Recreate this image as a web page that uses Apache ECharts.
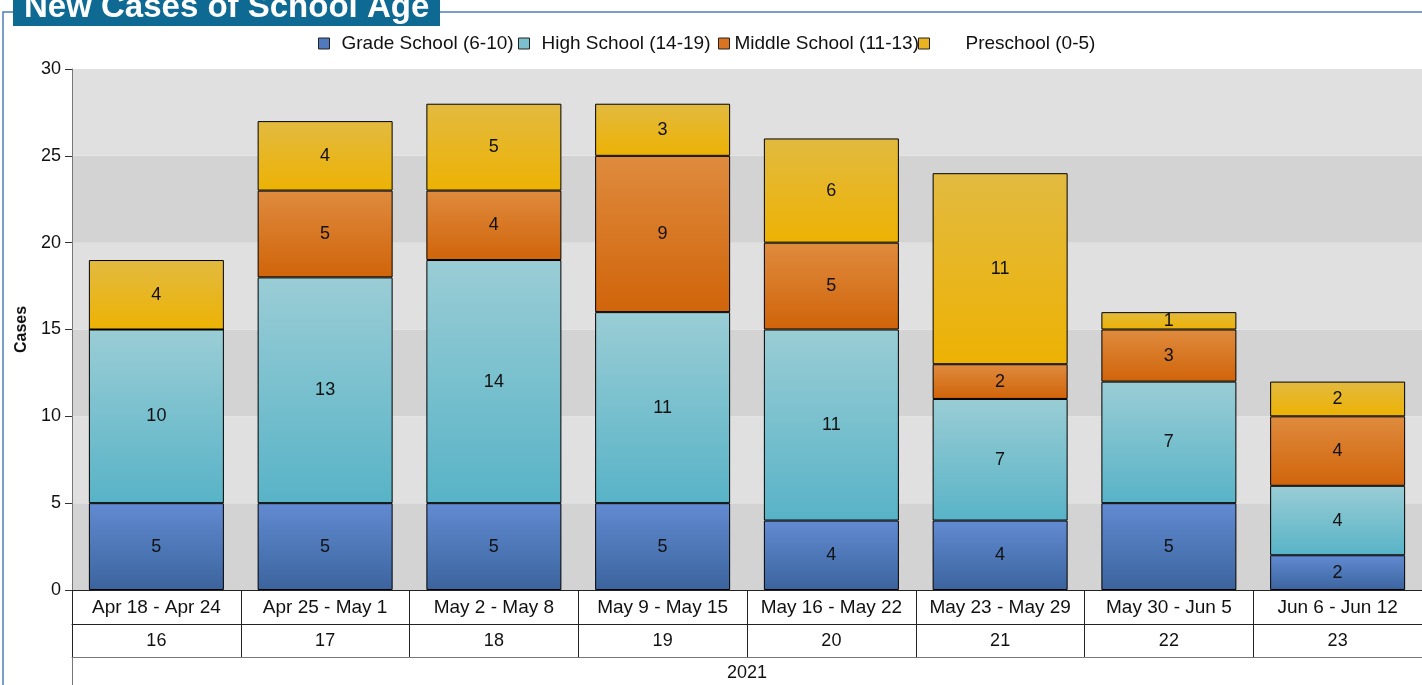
<!DOCTYPE html>
<html><head><meta charset="utf-8">
<script src="https://cdn.jsdelivr.net/npm/echarts@6/dist/echarts.min.js"></script>
<style>html,body{margin:0;padding:0;background:#fff;}#c{width:1422px;height:685px;}</style>
</head><body><div id="c"></div>
<script>
var weeks = ['Apr 18 - Apr 24','Apr 25 - May 1','May 2 - May 8','May 9 - May 15','May 16 - May 22','May 23 - May 29','May 30 - Jun 5','Jun 6 - Jun 12'];
var weekNums = ['16','17','18','19','20','21','22','23'];
var years = ['2021'];
var seriesNames = ['Grade School (6-10)','High School (14-19)','Middle School (11-13)','Preschool (0-5)'];
var gradeSchool = [5,5,5,5,4,4,5,2];
var highSchool = [10,13,14,11,11,7,7,4];
var middleSchool = [0,5,4,9,5,2,3,4];
var preschool = [4,4,5,3,6,11,1,2];
var yTicks = {min:0, max:30, interval:5};

function grad(top, bottom){
  return new echarts.graphic.LinearGradient(0,0,0,1,[{offset:0,color:top},{offset:1,color:bottom}]);
}
var FONT = 'Liberation Sans, Arial, sans-serif';
var colors = [['#628bd2','#3b649e'],['#9acdd5','#58b3c7'],['#df8b3e','#d0640a'],['#e2ba40','#edb203']];
var legendColors = ['#5079bf','#7cc0cf','#da7420','#e9b420'];
var legendLeft = [318,518,718,918];
var legendPad = [7,7,0,31];
function mk(i, data){
  return {
    name: seriesNames[i], type:'bar', stack:'a', data:data, barWidth:'80%',
    xAxisIndex:0,
    itemStyle:{color:grad(colors[i][0],colors[i][1]), borderColor:'#000', borderWidth:1},
    label:{show:true, position:'inside', color:'#111', fontSize:18, fontFamily:FONT,
      formatter:function(p){return p.value ? String(p.value) : '';}},
    emphasis:{disabled:true}
  };
}
var legends = seriesNames.map(function(n,i){
  return {
    left:legendLeft[i], top:34, itemWidth:11, itemHeight:11, padding:0,
    textStyle:{fontSize:19, color:'#111', fontFamily:FONT, padding:[0,0,0,legendPad[i]]},
    data:[{name:n, icon:'rect', itemStyle:{color:legendColors[i], borderColor:'#222', borderWidth:1}}]
  };
});
var chart = echarts.init(document.getElementById('c'));
chart.setOption({
  animation:false,
  backgroundColor:'#fff',
  grid:{left:72, right:0, top:69, bottom:95, containLabel:false},
  legend:legends,
  xAxis:[
    {type:'category', data:weeks, gridIndex:0, position:'bottom',
     axisLine:{show:true, lineStyle:{color:'#222'}},
     axisTick:{show:true, length:34, lineStyle:{color:'#222'}},
     axisLabel:{fontSize:19, color:'#111', fontFamily:FONT, margin:8, interval:0}},
    {type:'category', data:weekNums, gridIndex:0, position:'bottom', offset:34,
     axisLine:{show:true, lineStyle:{color:'#222'}},
     axisTick:{show:true, length:33, lineStyle:{color:'#222'}},
     axisLabel:{fontSize:18, color:'#111', fontFamily:FONT, margin:8, interval:0}},
    {type:'category', data:years, gridIndex:0, position:'bottom', offset:67,
     axisLine:{show:true, lineStyle:{color:'#777'}},
     axisTick:{show:true, length:40, lineStyle:{color:'#777'}},
     axisLabel:{fontSize:18, color:'#111', fontFamily:FONT, margin:7}}
  ],
  yAxis:{
    type:'value', min:yTicks.min, max:yTicks.max, interval:yTicks.interval,
    name:'Cases', nameLocation:'middle', nameRotate:90, nameGap:41,
    nameTextStyle:{fontSize:16, fontWeight:'bold', color:'#111', fontFamily:FONT},
    axisLine:{show:true, lineStyle:{color:'#777'}},
    axisTick:{show:true, length:7, lineStyle:{color:'#333'}},
    axisLabel:{fontSize:18, color:'#111', fontFamily:FONT, margin:11},
    splitLine:{show:false},
    splitArea:{show:true, areaStyle:{color:['#d3d3d3','#e0e0e0']}}
  },
  series:[
    mk(0, gradeSchool),
    mk(1, highSchool),
    mk(2, middleSchool),
    mk(3, preschool)
  ],
  graphic:[
    {type:'polyline', shape:{points:[[3,685],[3,12],[13,12]]}, style:{stroke:'#4f7db5', lineWidth:1.5, fill:null}, silent:true},
    {type:'line', shape:{x1:440,y1:12,x2:1422,y2:12}, style:{stroke:'#4f7db5', lineWidth:1.5}, silent:true},
    {type:'rect', shape:{x:13,y:-2,width:427,height:28}, style:{fill:'#0f6a93'}, silent:true},
    {type:'text', left:24, top:-9, style:{text:'New Cases of School Age', fill:'#fff', font:'bold 33px Liberation Sans, Arial, sans-serif'}, silent:true}
  ]
});
</script></body></html>
